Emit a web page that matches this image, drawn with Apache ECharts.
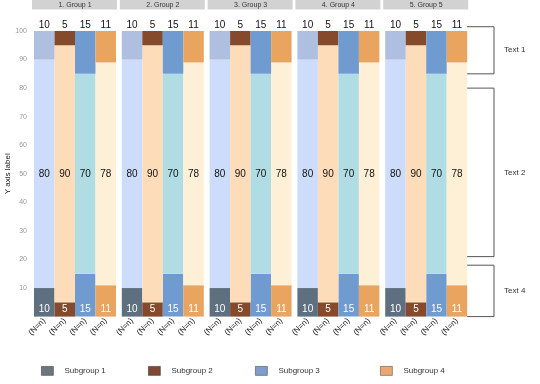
<!DOCTYPE html>
<html>
<head>
<meta charset="utf-8">
<script src="https://cdn.jsdelivr.net/npm/echarts@6/dist/echarts.min.js"></script>
<style>
html,body{margin:0;padding:0;background:#fff;}
#chart{width:540px;height:384px;}
</style>
</head>
<body>
<div id="chart"></div>
<script>
// ---- data ----
const groups = ['1. Group 1', '2. Group 2', '3. Group 3', '4. Group 4', '5. Group 5'];
const categories = ['(N=n)', '(N=n)', '(N=n)', '(N=n)'];
const subgroups = ['Subgroup 1', 'Subgroup 2', 'Subgroup 3', 'Subgroup 4'];
const bottomVals = [10, 5, 15, 11];
const middleVals = [80, 90, 70, 78];
const topVals = [10, 5, 15, 11];
const yTicks = [10, 20, 30, 40, 50, 60, 70, 80, 90, 100];
const brackets = [
  { label: 'Text 1', from: 85, to: 101.5 },
  { label: 'Text 2', from: 21, to: 80 },
  { label: 'Text 4', from: 0, to: 18 }
];

// ---- styles ----
const FONT = '"Liberation Sans", Arial, sans-serif';
const bottomColors = ['#5e7080', '#85492b', '#6f9bd0', '#e9a45f'];
const middleColors = ['#cddcfa', '#fcdcb9', '#afdde3', '#fdf0d7'];
const topColors = ['#aebfe0', '#85492b', '#6f9bd0', '#e9a45f'];
const legendColors = ['#6a7780', '#7d4a33', '#7f9ccb', '#e9a871'];
const legendLefts = [36, 143, 250, 375];

const GRID_TOP = 31, GRID_H = 285.6, GRID_W = 82, GRID_LEFT0 = 34, GRID_STEP = 87.8;

const chart = echarts.init(document.getElementById('chart'), null, { renderer: 'canvas' });

const grids = [], xAxes = [], yAxes = [], series = [];
groups.forEach((g, i) => {
  grids.push({ left: GRID_LEFT0 + i * GRID_STEP, top: GRID_TOP, width: GRID_W, height: GRID_H });
  xAxes.push({
    type: 'category', gridIndex: i, data: categories,
    axisLine: { show: false }, axisTick: { show: false },
    axisLabel: { rotate: 45, interval: 0, fontSize: 8, color: '#111', margin: 3, fontFamily: FONT }
  });
  yAxes.push({
    type: 'value', gridIndex: i, min: 0, max: 100, interval: 10,
    axisLine: { show: false }, axisTick: { show: false }, splitLine: { show: false },
    axisLabel: {
      show: i === 0, fontSize: 7, color: '#999', margin: 7, fontFamily: FONT,
      formatter: v => (yTicks.indexOf(v) >= 0 ? String(v) : '')
    },
    name: i === 0 ? 'Y axis label' : '',
    nameLocation: 'middle', nameGap: 19, nameRotate: 90,
    nameTextStyle: { fontSize: 8, color: '#222', fontFamily: FONT }
  });
  const mk = (vals, colors) => vals.map((v, k) => ({ value: v, itemStyle: { color: colors[k] } }));
  series.push({
    type: 'bar', name: 'bottom' + i, stack: 's' + i, xAxisIndex: i, yAxisIndex: i,
    barCategoryGap: 0, data: mk(bottomVals, bottomColors),
    label: { show: true, position: 'insideBottom', distance: 2, color: '#fff', fontSize: 10, fontFamily: FONT },
    silent: true
  });
  series.push({
    type: 'bar', name: 'middle' + i, stack: 's' + i, xAxisIndex: i, yAxisIndex: i,
    barCategoryGap: 0, data: mk(middleVals, middleColors),
    label: { show: true, position: 'inside', color: '#111', fontSize: 10, fontFamily: FONT },
    silent: true
  });
  series.push({
    type: 'bar', name: 'top' + i, stack: 's' + i, xAxisIndex: i, yAxisIndex: i,
    barCategoryGap: 0, data: mk(topVals, topColors),
    label: { show: true, position: 'top', distance: 1, color: '#111', fontSize: 10, fontFamily: FONT },
    silent: true
  });
});

// legend-only series (share the stack of grid 0 so they take no bar slot)
subgroups.forEach((s, k) => {
  series.push({ type: 'bar', name: s, stack: 's0', xAxisIndex: 0, yAxisIndex: 0, barCategoryGap: 0, data: [], itemStyle: { color: legendColors[k] } });
});

const legends = subgroups.map((s, k) => ({
  data: [s], left: legendLefts[k], top: 361, icon: 'rect', itemWidth: 12, itemHeight: 9, itemGap: 0,
  selectedMode: false,
  itemStyle: { borderColor: 'rgba(0,0,0,0.45)', borderWidth: 0.8 },
  textStyle: { fontSize: 8, color: '#333', fontFamily: FONT, padding: [0, 0, 0, 6] }
}));

chart.setOption({
  animation: false,
  backgroundColor: '#fff',
  grid: grids, xAxis: xAxes, yAxis: yAxes, series: series, legend: legends
});

// strips and brackets
const graphics = [];
groups.forEach((g, i) => {
  const l = GRID_LEFT0 + i * GRID_STEP;
  graphics.push({ type: 'rect', shape: { x: l - 2, y: 0, width: GRID_W + 3, height: 9.5 }, style: { fill: '#d2d2d2' }, silent: true });
  graphics.push({ type: 'text', x: l + GRID_W / 2, y: 5, style: { text: g, fontSize: 7, fill: '#333', fontFamily: FONT, textAlign: 'center', textVerticalAlign: 'middle' }, silent: true });
});
const BX0 = 467, BX1 = 494;
brackets.forEach(b => {
  const y1 = chart.convertToPixel({ yAxisIndex: 4 }, b.to);
  const y0 = chart.convertToPixel({ yAxisIndex: 4 }, b.from);
  graphics.push({ type: 'polyline', shape: { points: [[BX0, y1], [BX1, y1], [BX1, y0], [BX0, y0]] }, style: { stroke: '#555', lineWidth: 1, fill: null }, silent: true });
  graphics.push({ type: 'text', x: 504, y: (y0 + y1) / 2, style: { text: b.label, fontSize: 8, fill: '#333', fontFamily: FONT, textAlign: 'left', textVerticalAlign: 'middle' }, silent: true });
});
chart.setOption({ graphic: graphics });
</script>
</body>
</html>
